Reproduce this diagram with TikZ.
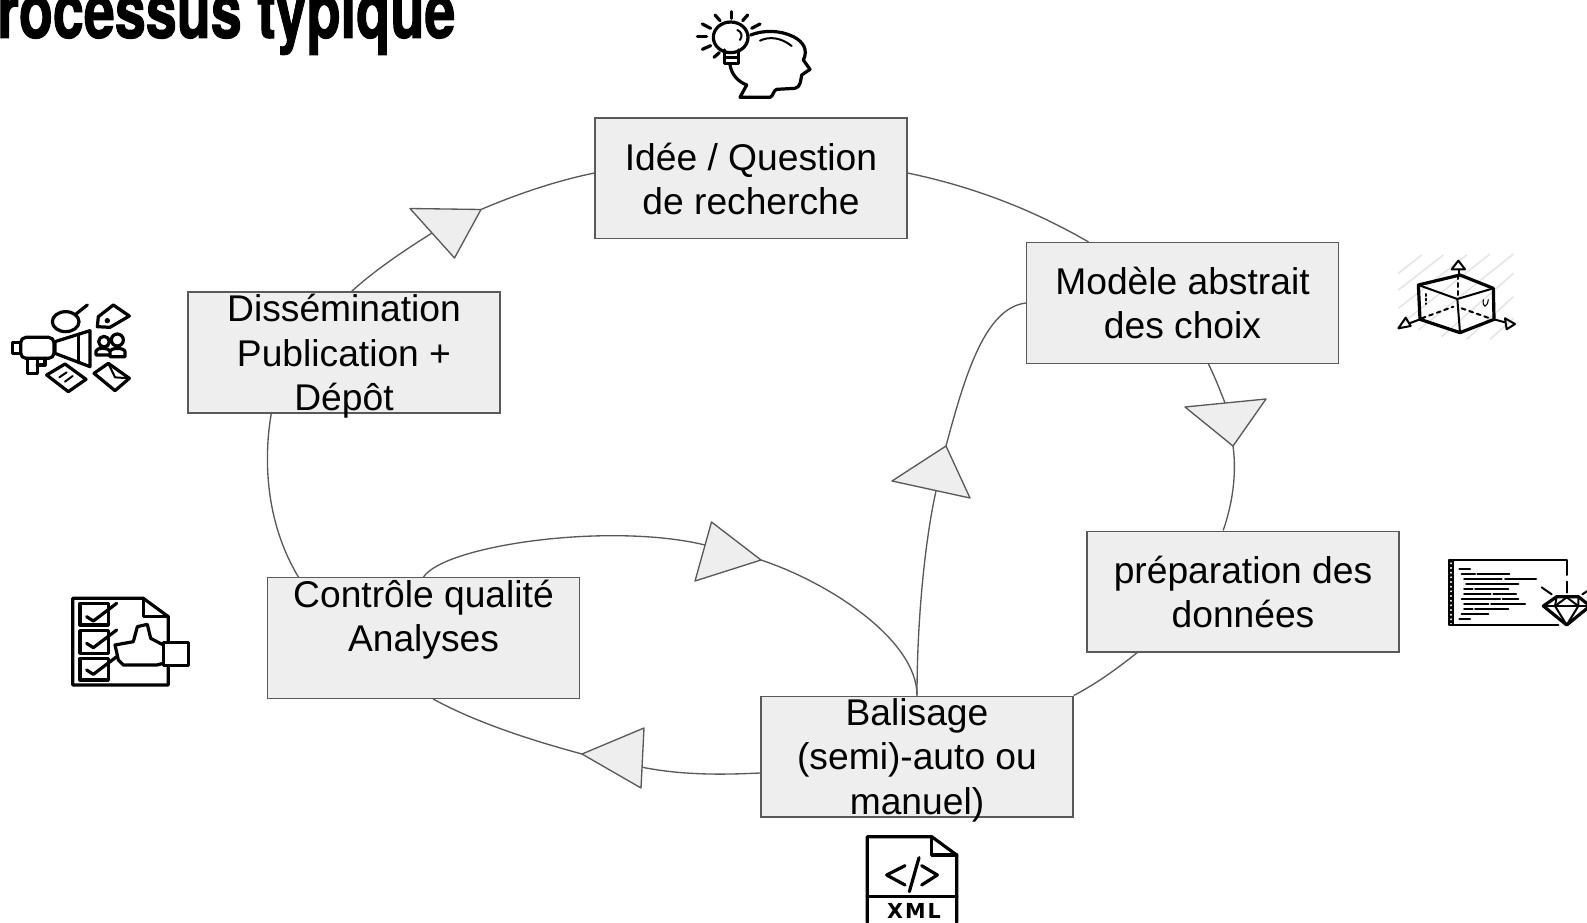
\documentclass[tikz,border=0pt]{standalone}
\usepackage{fontspec}
\setmainfont{Liberation Sans}
\newfontfamily\titlefont[FakeStretch=0.72,FakeBold=1.2]{TeX Gyre Heros}
\newfontfamily\iconfont{DejaVu Sans}
\definecolor{boxfill}{HTML}{EEEEEE}
\definecolor{linegrey}{HTML}{595959}
\tikzset{
    stepbox/.style={draw=linegrey, fill=boxfill, line width=1pt, minimum width=234pt, minimum height=90.5pt, inner sep=0pt, text depth=-2pt, align=center, font=\fontsize{27.9}{33.2}\selectfont},
    link/.style={draw=linegrey, line width=1pt},
    tip/.style={draw=linegrey, fill=boxfill, line width=1pt, line join=round},
    icon/.style={draw=black, line width=2.4pt, line join=round, line cap=round},
    thin icon/.style={draw=black, line width=1.5pt, line join=round, line cap=round}
}

\begin{document}
\begin{tikzpicture}[x=0.75pt, y=-0.75pt]
    \useasboundingbox (0,0) rectangle (1587,923);
    \node [anchor=base west, inner sep=0pt, font=\fontsize{58}{58}\selectfont\titlefont\bfseries] at (-3,38) (titre) {rocessus typique};

    % boxes
    \node [stepbox] at (751,178.5) (idee) {Idée / Question\\de recherche};
    \node [stepbox] at (1182.5,303) (modele) {Modèle abstrait\\des choix};
    \node [stepbox] at (1243,591.5) (prepa) {préparation des\\données};
    \node [stepbox, text depth=-4pt] at (917,756.5) (balisage) {Balisage\\(semi)-auto ou\\manuel)};
    \node [stepbox, text depth=-4pt] at (423.5,638) (controle) {Contrôle qualité\\Analyses\\~};
    \node [stepbox, text depth=-4pt] at (344,352.5) (diffusion) {Dissémination\\Publication +\\Dépôt};

    % triangles on the arcs: a and b are the base, m where the arc comes in, c the point
    \coordinate (t1a) at (410,208.5); \coordinate (t1b) at (454.5,258); \coordinate (t1m) at (432,233); \coordinate (t1c) at (481,209.5);
    \coordinate (t2a) at (1185,407); \coordinate (t2b) at (1266,399); \coordinate (t2m) at (1225,403); \coordinate (t2c) at (1233,446);
    \coordinate (t3a) at (644,728); \coordinate (t3b) at (641,788); \coordinate (t3m) at (641,767); \coordinate (t3c) at (582,754);
    \coordinate (t4a) at (711.5,522); \coordinate (t4b) at (695,581); \coordinate (t4m) at (705,545); \coordinate (t4c) at (761,560);
    \coordinate (t5a) at (892,481); \coordinate (t5b) at (970,498); \coordinate (t5m) at (936,491); \coordinate (t5c) at (946,446);

    \path [link] (diffusion.83.4) .. controls (375,270) and (405,250) .. (t1m);
    \path [link] (t1c) .. controls (515,195) and (555,181) .. (idee.178);
    \path [link] (idee.2) .. controls (970,186) and (1030,208) .. (modele.147.8);
    \path [link] (modele.293) .. controls (1214,375) and (1220,390) .. (t2m);
    \path [link] (t2c) .. controls (1237,475) and (1232,505) .. (prepa.108);
    \path [link] (prepa.210.6) .. controls (1118,668) and (1096,684) .. (balisage.north east);
    \path [link] (balisage.186.4) .. controls (720,775) and (680,775) .. (t3m);
    \path [link] (t3c) .. controls (530,740) and (475,722) .. (controle.279);
    \path [link] (controle.154) .. controls (264,520) and (264,455) .. (diffusion.220.4);
    \path [link] (controle.north) .. controls (445,545) and (610,522) .. (t4m);
    \path [link] (t4c) .. controls (830,583) and (917,640) .. (balisage.north);
    \path [link] (balisage.north) .. controls (917,620) and (925,540) .. (t5m);
    \path [link] (t5c) .. controls (965,375) and (985,308) .. (modele.west);

    \path [tip] (t1a) -- (t1b) -- (t1c) -- cycle;
    \path [tip] (t2a) -- (t2b) -- (t2c) -- cycle;
    \path [tip] (t3a) -- (t3b) -- (t3c) -- cycle;
    \path [tip] (t4a) -- (t4b) -- (t4c) -- cycle;
    \path [tip] (t5a) -- (t5b) -- (t5c) -- cycle;

    % head with bulb
    \begin{scope}[shift={(680,0)}, x=0.25pt, y=-0.25pt]
        \draw [icon] (152,112) ellipse (52 and 46);
        \draw [icon] (133,150) -- (133,190) -- (175,190) -- (175,150);
        \draw [icon] (133,172) -- (175,172);
        \draw [icon] (155,35) -- (155,55);
        \draw [icon] (105,45) -- (120,62);
        \draw [icon] (203,45) -- (188,62);
        \draw [icon] (67,72) -- (92,85);
        \draw [icon] (240,72) -- (215,85);
        \draw [icon] (52,110) -- (80,110);
        \draw [icon] (67,148) -- (92,137);
        \draw [icon] (102,172) -- (118,158);
        \draw [thin icon] (172,90) .. controls (185,95) and (188,108) .. (180,120);
        \draw [icon] (150,195) .. controls (155,225) and (175,245) .. (200,255) -- (180,292) -- (270,292) .. controls (280,290) and (280,270) .. (290,268) -- (345,265) .. controls (362,262) and (362,240) .. (365,225) -- (390,208) -- (370,180) .. controls (385,150) and (370,125) .. (340,110) .. controls (300,90) and (250,90) .. (212,105);
        \draw [thin icon] (240,122) .. controls (265,110) and (300,110) .. (335,138);
    \end{scope}

    % cube
    \begin{scope}[shift={(1380,240)}, x=0.25pt, y=-0.25pt]
        \draw [black!10, line width=1.2pt] (55,100) -- (125,45);
        \draw [black!10, line width=1.2pt] (55,150) -- (190,45);
        \draw [black!10, line width=1.2pt] (55,205) -- (260,45);
        \draw [black!10, line width=1.2pt] (60,255) -- (330,42);
        \draw [black!10, line width=1.2pt] (115,270) -- (400,42);
        \draw [black!10, line width=1.2pt] (185,290) -- (400,100);
        \draw [black!10, line width=1.2pt] (260,298) -- (400,170);
        \draw [black!10, line width=1.2pt] (330,298) -- (400,235);
        \draw [icon] (115,135) -- (240,105) -- (340,145) -- (342,238) -- (240,278) -- (120,238) -- cycle;
        \draw [thin icon] (115,135) -- (232,177) -- (340,145);
        \draw [thin icon] (232,177) -- (240,278);
        \draw [thin icon, dashed] (235,105) -- (235,175);
        \draw [thin icon, dashed] (125,235) -- (220,200);
        \draw [thin icon, dashed] (245,205) -- (335,237);
        \draw [thin icon] (237,105) -- (237,88);
        \draw [thin icon] (120,238) -- (88,250);
        \draw [thin icon] (342,238) -- (375,247);
        \draw [thin icon] (215,88) -- (255,88) -- (235,62) -- cycle;
        \draw [thin icon] (77,233) -- (92,258) -- (55,265) -- cycle;
        \draw [thin icon] (375,235) -- (380,268) -- (405,252) -- cycle;
        \draw [thin icon, dotted] (138,162) -- (138,192);
        \draw [black, line width=0.8pt] (310,178) .. controls (306,205) and (322,205) .. (325,178);
    \end{scope}

    % code with diamond
    \begin{scope}[shift={(1430,540)}, x=0.25pt, y=-0.25pt]
        \draw [thin icon] (385,255) -- (56,255) -- (56,60) -- (410,60) -- (410,105);
        \draw [thin icon] (70,60) -- (70,255);
        \draw [thin icon, dotted] (63,60) -- (63,255);
        \draw [thin icon] (88,88) -- (120,88);
        \draw [thin icon] (95,102) -- (135,102);
        \draw [thin icon] (142,102) -- (238,102);
        \draw [thin icon] (102,118) -- (215,118);
        \draw [thin icon] (225,118) -- (318,118);
        \draw [thin icon] (108,132) -- (265,132);
        \draw [thin icon] (102,148) -- (128,148);
        \draw [thin icon] (135,148) -- (235,148);
        \draw [thin icon] (102,162) -- (182,162);
        \draw [thin icon] (190,162) -- (258,162);
        \draw [thin icon] (95,178) -- (210,178);
        \draw [thin icon] (218,178) -- (265,178);
        \draw [thin icon] (102,193) -- (175,193);
        \draw [thin icon] (183,193) -- (285,193);
        \draw [thin icon] (102,208) -- (128,208);
        \draw [thin icon] (135,208) -- (235,208);
        \draw [thin icon] (95,223) -- (175,223);
        \draw [thin icon] (88,238) -- (120,238);
        \draw [icon] (340,198) -- (380,170) -- (445,170) -- (480,198) -- (410,255) -- cycle;
        \draw [thin icon] (340,198) -- (480,198);
        \draw [thin icon] (380,170) -- (375,198) -- (410,255) -- (445,198) -- (445,170);
        \draw [thin icon] (375,198) -- (410,172) -- (445,198);
        \draw [thin icon] (335,142) -- (365,163);
        \draw [thin icon] (410,125) -- (410,158);
        \draw [thin icon] (457,163) -- (480,148);
    \end{scope}

    % megaphone and friends
    \begin{scope}[shift={(0,290)}, x=0.25pt, y=-0.25pt]
        \draw [icon] (197,95) ellipse (40 and 30);
        \draw [icon] (228,72) -- (262,45);
        \draw [icon] (292,110) -- (295,80) -- (340,45) -- (388,78) -- (330,112) -- cycle;
        \fill (322,92) circle (8);
        \draw [icon] (165,155) -- (270,122) -- (270,230) -- (165,190) -- cycle;
        \draw [icon] (235,135) -- (235,218);
        \draw [icon, rounded corners=4pt] (62,142) rectangle (162,205);
        \draw [icon] (62,158) -- (38,158) -- (38,190) -- (62,190);
        \draw [icon] (82,205) -- (82,250) -- (112,250) -- (112,205);
        \draw [icon] (135,205) -- (135,225) -- (112,225);
        \draw [icon] (140,255) -- (195,222) -- (258,268) -- (205,305) -- cycle;
        \draw [thin icon] (178,262) -- (200,247);
        \draw [thin icon] (195,275) -- (218,258);
        \draw [icon] (312,155) circle (16);
        \draw [icon] (352,150) circle (18);
        \draw [icon] (330,195) -- (288,195) -- (288,183) .. controls (290,172) and (325,172) .. (330,183);
        \draw [icon] (330,200) -- (375,200) -- (375,185) .. controls (373,172) and (332,172) .. (330,185) -- cycle;
        \draw [icon] (282,250) -- (325,220) -- (388,265) -- (345,302) -- cycle;
        \draw [thin icon] (325,220) -- (345,262) -- (388,265);
    \end{scope}

    % checklist
    \begin{scope}[shift={(60,585)}, x=0.25pt, y=-0.25pt]
        \draw [icon] (325,245) -- (325,300) -- (38,300) -- (38,40) -- (250,40) -- (325,95) -- (325,170);
        \draw [icon] (250,40) -- (250,95) -- (325,95);
        \draw [icon] (60,55) rectangle (145,120);
        \draw [icon] (60,137) rectangle (145,205);
        \draw [icon] (60,220) rectangle (145,285);
        \draw [icon] (80,95) -- (100,108) -- (170,55);
        \draw [icon] (80,175) -- (100,188) -- (170,135);
        \draw [icon] (80,255) -- (100,268) -- (170,215);
        \draw [icon] (310,180) -- (272,160) -- (262,118) -- (232,125) -- (220,170) -- (165,180) -- (175,225) -- (190,240) -- (290,240) -- (310,235);
        \draw [icon] (310,172) rectangle (385,242);
    \end{scope}

    % xml file
    \begin{scope}[shift={(850,825)}, x=0.25pt, y=-0.25pt]
        \draw [icon] (52,292) -- (52,35) -- (245,35) -- (320,90) -- (320,292);
        \draw [icon] (245,35) -- (245,90) -- (320,90);
        \draw [icon] (52,215) -- (320,215);
        \draw [icon] (165,122) -- (110,150) -- (165,180);
        \draw [icon] (207,98) -- (178,200);
        \draw [icon] (215,122) -- (262,150) -- (215,180);
        \node [inner sep=0pt, font=\fontsize{15.5}{15.5}\selectfont\iconfont\bfseries] at (192,258) (xml) {X\kern1.5pt M\kern1.5pt L};
    \end{scope}
\end{tikzpicture}
\end{document}
